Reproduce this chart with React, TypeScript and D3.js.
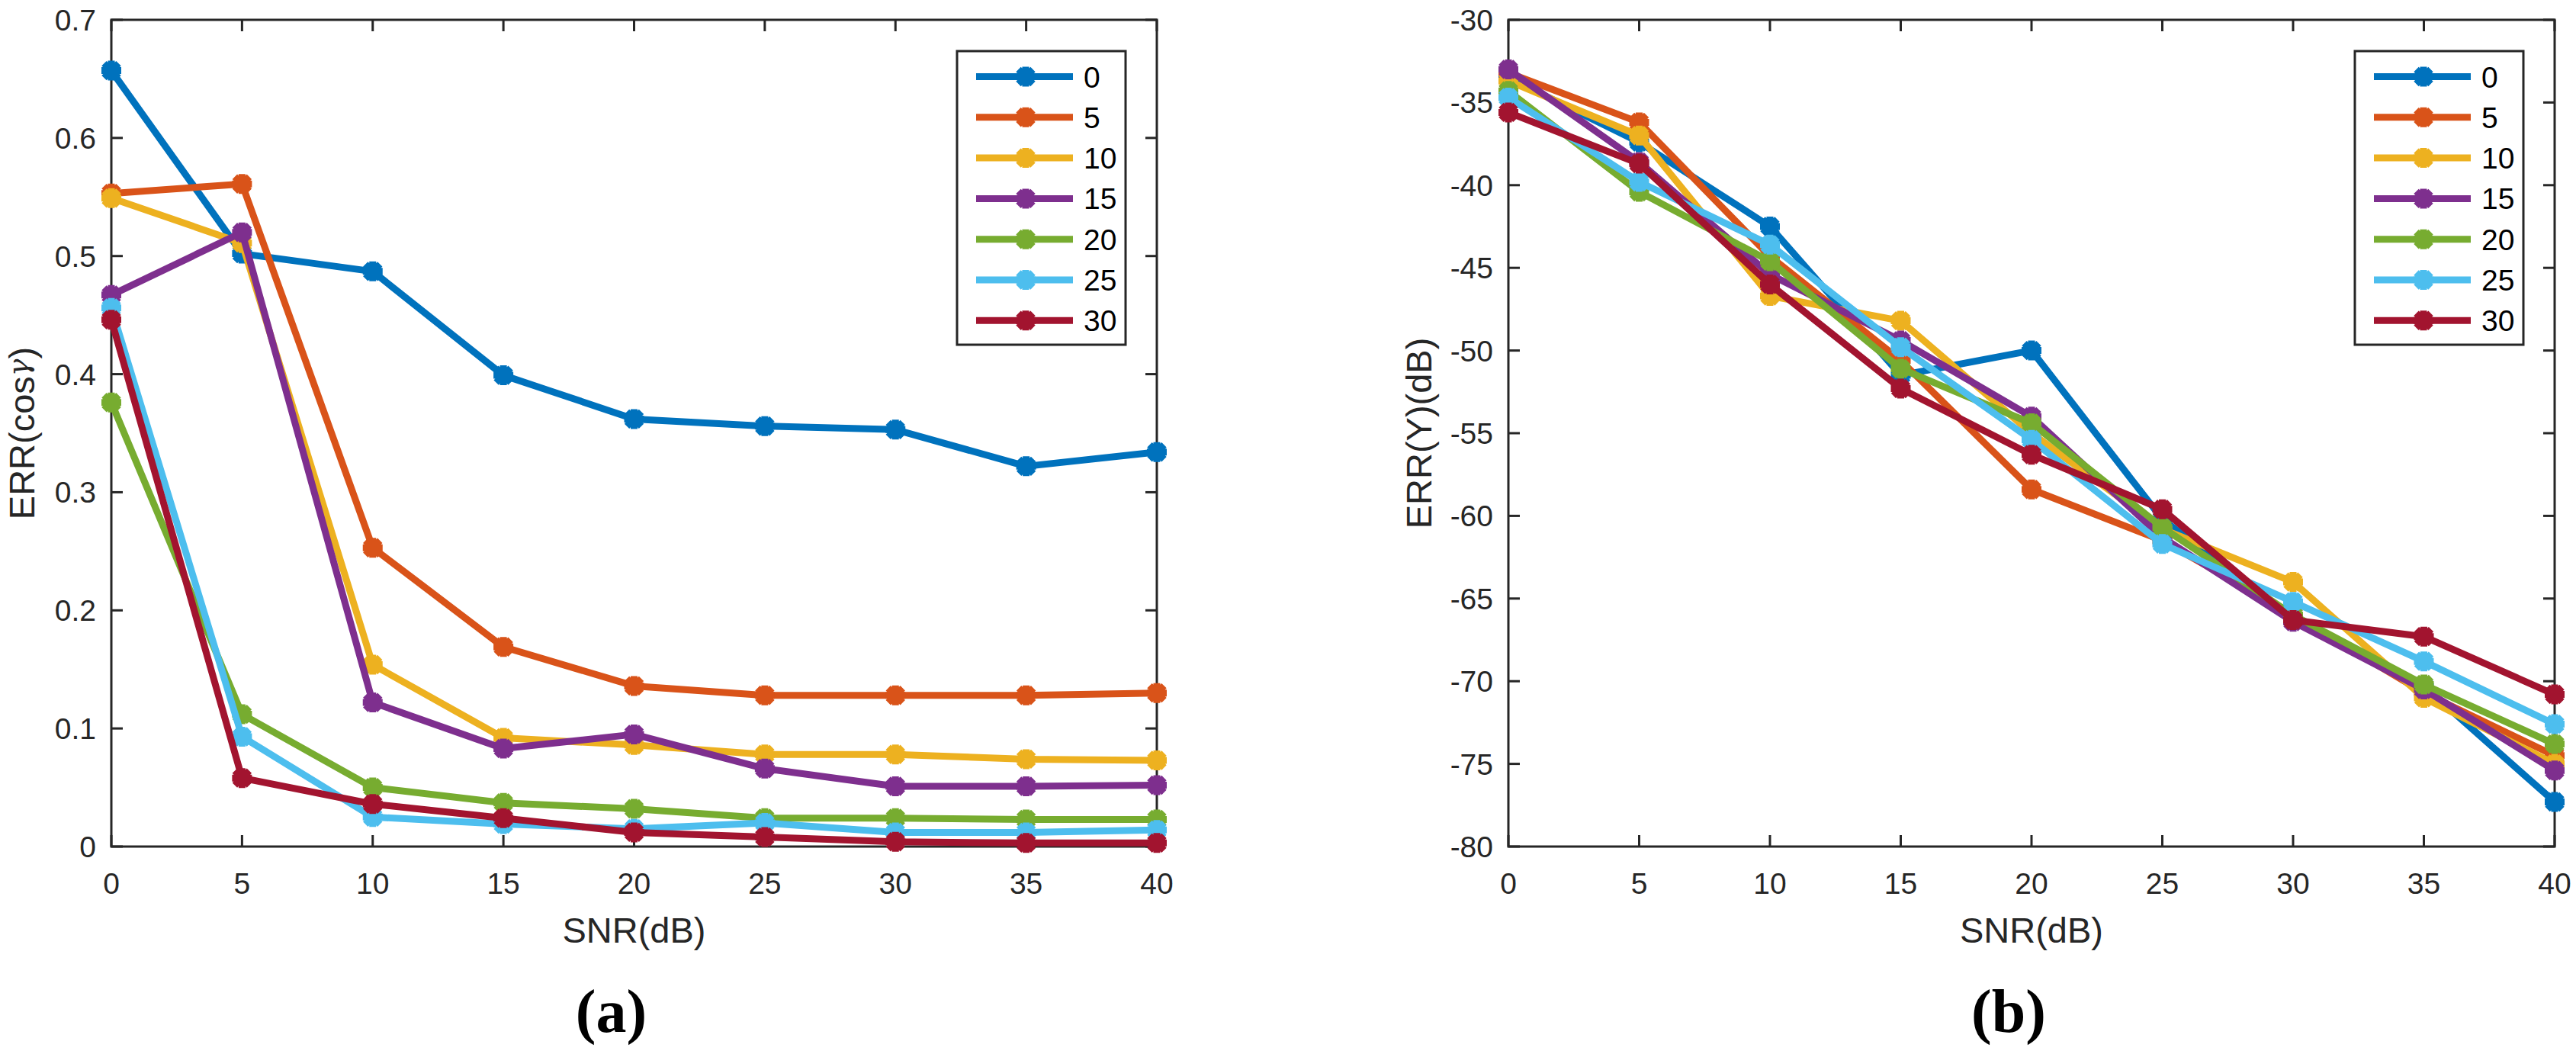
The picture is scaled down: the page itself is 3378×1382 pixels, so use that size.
import { useEffect, useRef } from 'react'
import * as d3 from 'd3'

// SNR (dB) on the x axis, same for both panels
const snr = [0, 5, 10, 15, 20, 25, 30, 35, 40]
const seriesNames = ['0', '5', '10', '15', '20', '25', '30']
const seriesColors = ['#0072BD', '#D95319', '#EDB120', '#7E2F8E', '#77AC30', '#4DBEEE', '#A2142F']

// panel (a): ERR(cos gamma)
const cosErr0 = [0.657, 0.502, 0.487, 0.399, 0.362, 0.356, 0.353, 0.322, 0.334]
const cosErr5 = [0.553, 0.561, 0.253, 0.169, 0.136, 0.128, 0.128, 0.128, 0.130]
const cosErr10 = [0.549, 0.511, 0.154, 0.092, 0.086, 0.078, 0.078, 0.074, 0.073]
const cosErr15 = [0.467, 0.520, 0.122, 0.083, 0.095, 0.066, 0.051, 0.051, 0.052]
const cosErr20 = [0.376, 0.112, 0.050, 0.037, 0.032, 0.024, 0.024, 0.023, 0.023]
const cosErr25 = [0.456, 0.093, 0.025, 0.019, 0.015, 0.020, 0.012, 0.012, 0.014]
const cosErr30 = [0.446, 0.058, 0.036, 0.024, 0.012, 0.008, 0.004, 0.003, 0.003]

// panel (b): ERR(Y) in dB
const yErr0 = [-33.5, -37.4, -42.5, -51.5, -50.0, -60.2, -66.2, -70.3, -77.3]
const yErr5 = [-33.2, -36.2, -44.3, -50.6, -58.4, -61.5, -66.0, -70.7, -74.5]
const yErr10 = [-33.7, -37.0, -46.7, -48.2, -55.0, -60.8, -64.0, -71.0, -75.0]
const yErr15 = [-33.0, -38.6, -45.4, -49.4, -54.0, -61.3, -66.4, -70.5, -75.4]
const yErr20 = [-34.3, -40.4, -44.6, -51.1, -54.4, -60.7, -66.0, -70.2, -73.8]
const yErr25 = [-34.7, -39.8, -43.6, -49.8, -55.4, -61.7, -65.2, -68.8, -72.6]
const yErr30 = [-35.6, -38.7, -46.0, -52.3, -56.3, -59.6, -66.3, -67.3, -70.8]

const cosTicks = [0, 0.1, 0.2, 0.3, 0.4, 0.5, 0.6, 0.7]
const yTicks = [-80, -75, -70, -65, -60, -55, -50, -45, -40, -35, -30]

const W = 3378
const H = 1382
const AX = '#262626'
const FONT = '"Liberation Sans", Arial, Helvetica, sans-serif'

const panels = [
  {
    left: 146, right: 1517, domain: [0, 0.7], ticks: cosTicks,
    fmt: (v: number) => String(+v.toFixed(1)),
    label: 'ERR(cos', greek: true, caption: '(a)',
    series: [cosErr0, cosErr5, cosErr10, cosErr15, cosErr20, cosErr25, cosErr30],
  },
  {
    left: 1978, right: 3350, domain: [-80, -30], ticks: yTicks,
    fmt: (v: number) => String(v),
    label: 'ERR(Y)(dB)', greek: false, caption: '(b)',
    series: [yErr0, yErr5, yErr10, yErr15, yErr20, yErr25, yErr30],
  },
]

const markerPath = 'M-13,0H13M0,-13V13M-9.5,-9.5L9.5,9.5M-9.5,9.5L9.5,-9.5'

export default function App() {
  const ref = useRef<SVGSVGElement>(null)

  useEffect(() => {
    if (!ref.current) return
    const svg = d3.select(ref.current)
    svg.selectAll('*').remove()

    const top = 26
    const bottom = 1110
    const tickLen = 15

    panels.forEach(p => {
      const x = d3.scaleLinear().domain([0, 40]).range([p.left, p.right])
      const y = d3.scaleLinear().domain(p.domain).range([bottom, top])
      const g = svg.append('g')

      // box
      g.append('rect')
        .attr('x', p.left).attr('y', top)
        .attr('width', p.right - p.left).attr('height', bottom - top)
        .attr('fill', 'none').attr('stroke', AX).attr('stroke-width', 3)

      // x ticks (bottom + top, inward)
      snr.forEach(v => {
        g.append('line').attr('x1', x(v)).attr('x2', x(v))
          .attr('y1', bottom).attr('y2', bottom - tickLen)
          .attr('stroke', AX).attr('stroke-width', 3)
        g.append('line').attr('x1', x(v)).attr('x2', x(v))
          .attr('y1', top).attr('y2', top + tickLen)
          .attr('stroke', AX).attr('stroke-width', 3)
        g.append('text')
          .attr('x', x(v)).attr('y', 1172)
          .attr('text-anchor', 'middle')
          .style('font-family', FONT).style('font-size', '39px').style('fill', AX)
          .text(String(v))
      })

      // y ticks (left + right, inward)
      p.ticks.forEach(v => {
        g.append('line').attr('x1', p.left).attr('x2', p.left + tickLen)
          .attr('y1', y(v)).attr('y2', y(v))
          .attr('stroke', AX).attr('stroke-width', 3)
        g.append('line').attr('x1', p.right).attr('x2', p.right - tickLen)
          .attr('y1', y(v)).attr('y2', y(v))
          .attr('stroke', AX).attr('stroke-width', 3)
        g.append('text')
          .attr('x', p.left - 20).attr('y', y(v))
          .attr('dy', '0.36em')
          .attr('text-anchor', 'end')
          .style('font-family', FONT).style('font-size', '39px').style('fill', AX)
          .text(p.fmt(v))
      })

      // axis labels
      g.append('text')
        .attr('x', (p.left + p.right) / 2).attr('y', 1236)
        .attr('text-anchor', 'middle')
        .style('font-family', FONT).style('font-size', '47px').style('fill', AX)
        .text('SNR(dB)')

      const yl = g.append('text')
        .attr('transform', `translate(${p.left - 101},${(top + bottom) / 2}) rotate(-90)`)
        .attr('text-anchor', 'middle')
        .style('font-family', FONT).style('font-size', '47px').style('fill', AX)
      yl.append('tspan').text(p.label)
      if (p.greek) {
        yl.append('tspan')
          .style('font-family', '"DejaVu Serif", serif')
          .style('font-style', 'italic')
          .style('font-weight', '300')
          .style('font-size', '38px')
          .attr('dy', '-8')
          .text('γ')
        yl.append('tspan').attr('dy', '8').text(')')
      }

      // caption
      g.append('text')
        .attr('x', (p.left + p.right) / 2 - 30).attr('y', 1353)
        .attr('text-anchor', 'middle')
        .style('font-family', '"Liberation Serif", "Times New Roman", serif')
        .style('font-weight', '700').style('font-size', '80px').style('fill', '#000')
        .text(p.caption)

      // series
      const line = d3.line<number>()
        .x((_, i) => x(snr[i]))
        .y(d => y(d))

      p.series.forEach((vals, si) => {
        const c = seriesColors[si]
        g.append('path')
          .attr('d', line(vals))
          .attr('fill', 'none').attr('stroke', c)
          .attr('stroke-width', 9).attr('stroke-linejoin', 'round')
        vals.forEach((v, i) => {
          g.append('path')
            .attr('d', markerPath)
            .attr('transform', `translate(${x(snr[i])},${y(v)})`)
            .attr('fill', 'none').attr('stroke', c).attr('stroke-width', 9)
        })
      })

      // legend
      const boxW = 221
      const bx = p.right - 41 - boxW
      const by = 67
      const lg = g.append('g')
      lg.append('rect')
        .attr('x', bx).attr('y', by).attr('width', boxW).attr('height', 385)
        .attr('fill', '#fff').attr('stroke', AX).attr('stroke-width', 3)
      seriesNames.forEach((name, i) => {
        const ly = 100.5 + i * 53.3
        lg.append('line')
          .attr('x1', bx + 25).attr('x2', bx + 152)
          .attr('y1', ly).attr('y2', ly)
          .attr('stroke', seriesColors[i]).attr('stroke-width', 9)
        lg.append('path')
          .attr('d', markerPath)
          .attr('transform', `translate(${bx + 90},${ly})`)
          .attr('fill', 'none').attr('stroke', seriesColors[i]).attr('stroke-width', 9)
        lg.append('text')
          .attr('x', bx + 166).attr('y', ly).attr('dy', '0.36em')
          .style('font-family', FONT).style('font-size', '39px').style('fill', '#000')
          .text(name)
      })
    })
  }, [])

  return (
    <svg
      ref={ref}
      width={W}
      height={H}
      viewBox={`0 0 ${W} ${H}`}
      style={{ position: 'absolute', left: 0, top: 0, background: '#fff' }}
    />
  )
}
